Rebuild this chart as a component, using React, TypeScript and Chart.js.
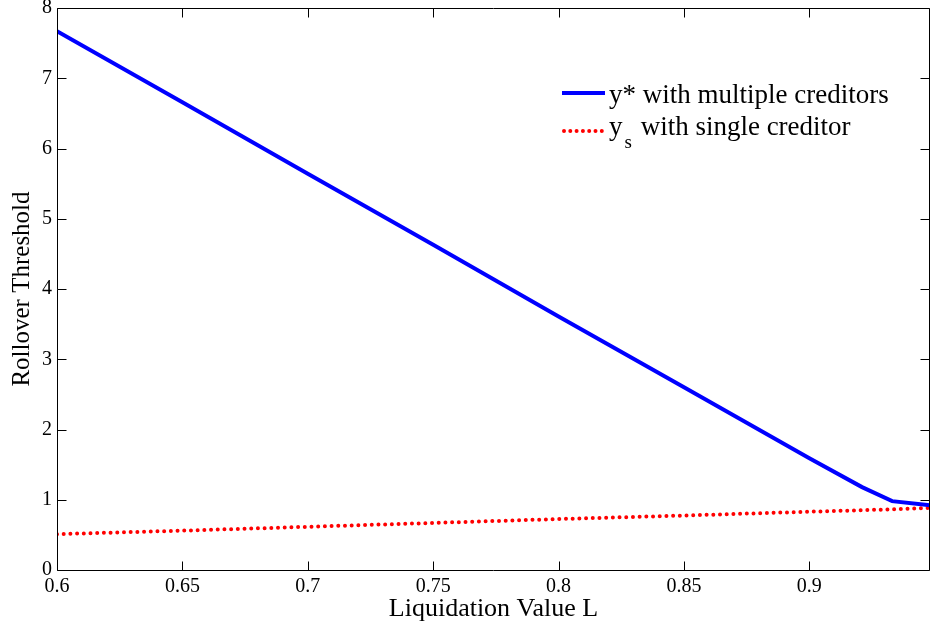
import React, { useEffect, useRef } from "react";
import { Chart, registerables } from "chart.js";

Chart.register(...registerables);

const liquidationValues = [0.6, 0.65, 0.7, 0.75, 0.8, 0.85, 0.9, 0.921, 0.933, 0.9481];
const multipleCreditors = [7.67, 6.66, 5.64, 4.63, 3.61, 2.6, 1.59, 1.18, 0.98, 0.92];
const singleCreditor = [0.51, 0.56, 0.615, 0.67, 0.725, 0.775, 0.83, 0.85, 0.865, 0.885];

const xMin = 0.6;
const xMax = 0.9481;
const yMin = 0;
const yMax = 8;

const seriesLabels = ["y* with multiple creditors", "y", "s", " with single creditor"];
const xTitle = "Liquidation Value L";
const yTitle = "Rollover Threshold";

const SERIF = '"Liberation Serif", "Times New Roman", serif';

const frameAndLegend = {
  id: "frameAndLegend",
  afterDraw(chart: any) {
    const { ctx, chartArea } = chart;
    const { left, right, top, bottom } = chartArea;
    const L = Math.round(left) + 0.5;
    const R = Math.round(right) - 0.5;
    const T = Math.round(top) + 0.5;
    const B = Math.round(bottom) + 0.5;
    ctx.save();
    ctx.strokeStyle = "#000";
    ctx.lineWidth = 1;
    ctx.beginPath();
    ctx.rect(L, T, R - L, B - T);
    ctx.stroke();
    const tl = 9;
    const xs = chart.scales.x;
    const ys = chart.scales.y;
    ctx.beginPath();
    xs.ticks.forEach((t: any) => {
      const px = Math.round(xs.getPixelForValue(t.value)) + 0.5;
      ctx.moveTo(px, B);
      ctx.lineTo(px, B - tl);
      ctx.moveTo(px, T);
      ctx.lineTo(px, T + tl);
    });
    ys.ticks.forEach((t: any) => {
      const py = Math.round(ys.getPixelForValue(t.value)) + 0.5;
      ctx.moveTo(L, py);
      ctx.lineTo(L + tl, py);
      ctx.moveTo(R, py);
      ctx.lineTo(R - tl, py);
    });
    ctx.stroke();

    // legend
    const lx0 = left + 505;
    const lx1 = left + 548;
    const ty = top + 85;
    ctx.strokeStyle = "#0000ff";
    ctx.lineWidth = 4;
    ctx.lineCap = "butt";
    ctx.beginPath();
    ctx.moveTo(lx0, ty);
    ctx.lineTo(lx1, ty);
    ctx.stroke();

    ctx.fillStyle = "#000";
    ctx.font = "27px " + SERIF;
    ctx.textBaseline = "alphabetic";
    ctx.textAlign = "left";
    const textX = lx1 + 4;
    ctx.fillText(seriesLabels[0], textX, ty + 10);

    const ry = ty + 38;
    ctx.strokeStyle = "#ff0000";
    ctx.lineWidth = 4;
    ctx.lineCap = "round";
    ctx.setLineDash([0, 6.3]);
    ctx.beginPath();
    ctx.moveTo(lx0 + 2, ry);
    ctx.lineTo(lx1 - 1, ry);
    ctx.stroke();
    ctx.setLineDash([]);

    ctx.font = "27px " + SERIF;
    ctx.fillText(seriesLabels[1], textX, ry + 4);
    const yw = ctx.measureText(seriesLabels[1]).width;
    ctx.font = "19px " + SERIF;
    ctx.fillText(seriesLabels[2], textX + yw + 2, ry + 17);
    const sw = ctx.measureText(seriesLabels[2]).width;
    ctx.font = "27px " + SERIF;
    ctx.fillText(seriesLabels[3], textX + yw + sw + 4, ry + 4);
    ctx.restore();
  },
};

export default function App() {
  const ref = useRef<HTMLCanvasElement | null>(null);
  useEffect(() => {
    if (!ref.current) return;
    const chart = new Chart(ref.current, {
      type: "line",
      data: {
        datasets: [
          {
            label: "multiple",
            data: liquidationValues.map((x, i) => ({ x, y: multipleCreditors[i] })),
            borderColor: "#0000ff",
            borderWidth: 4,
            pointRadius: 0,
            tension: 0,
            fill: false,
          },
          {
            label: "single",
            data: liquidationValues.map((x, i) => ({ x, y: singleCreditor[i] })),
            borderColor: "#ff0000",
            borderWidth: 4,
            borderDash: [0, 6.7],
            borderCapStyle: "round",
            pointRadius: 0,
            tension: 0,
            fill: false,
          },
        ],
      },
      options: {
        animation: false,
        responsive: false,
        maintainAspectRatio: false,
        layout: { padding: { top: 8, right: 0, left: 0, bottom: 0 } },
        plugins: { legend: { display: false }, tooltip: { enabled: false } },
        scales: {
          x: {
            type: "linear",
            min: xMin,
            max: xMax,
            grid: { display: false, drawTicks: false },
            border: { display: false },
            ticks: {
              stepSize: 0.05,
              includeBounds: false,
              maxRotation: 0,
              padding: 5,
              color: "#000",
              font: { family: SERIF, size: 20 },
              callback: (v: any) => String(Math.round(Number(v) * 100) / 100),
            },
            title: {
              display: true,
              text: xTitle,
              color: "#000",
              font: { family: SERIF, size: 26 },
              padding: { top: 0, bottom: 1 },
            },
            afterFit(scale: any) {
              scale.height = 56;
              scale.paddingLeft = 0;
              scale.paddingRight = 0;
            },
          },
          y: {
            min: yMin,
            max: yMax,
            grid: { display: false, drawTicks: false },
            border: { display: false },
            ticks: {
              stepSize: 1,
              padding: 5,
              color: "#000",
              font: { family: SERIF, size: 20 },
            },
            title: {
              display: true,
              text: yTitle,
              color: "#000",
              font: { family: SERIF, size: 25 },
              padding: { top: 7, bottom: 0 },
            },
            afterFit(scale: any) {
              scale.width = 57;
              scale.paddingTop = 0;
              scale.paddingBottom = 0;
            },
          },
        },
      },
      plugins: [frameAndLegend],
    } as any);
    return () => chart.destroy();
  }, []);
  return (
    <div style={{ position: "absolute", left: 0, top: 0, width: 930, height: 626, background: "#fff" }}>
      <canvas ref={ref} width={930} height={626} style={{ width: 930, height: 626, display: "block" }} />
    </div>
  );
}
